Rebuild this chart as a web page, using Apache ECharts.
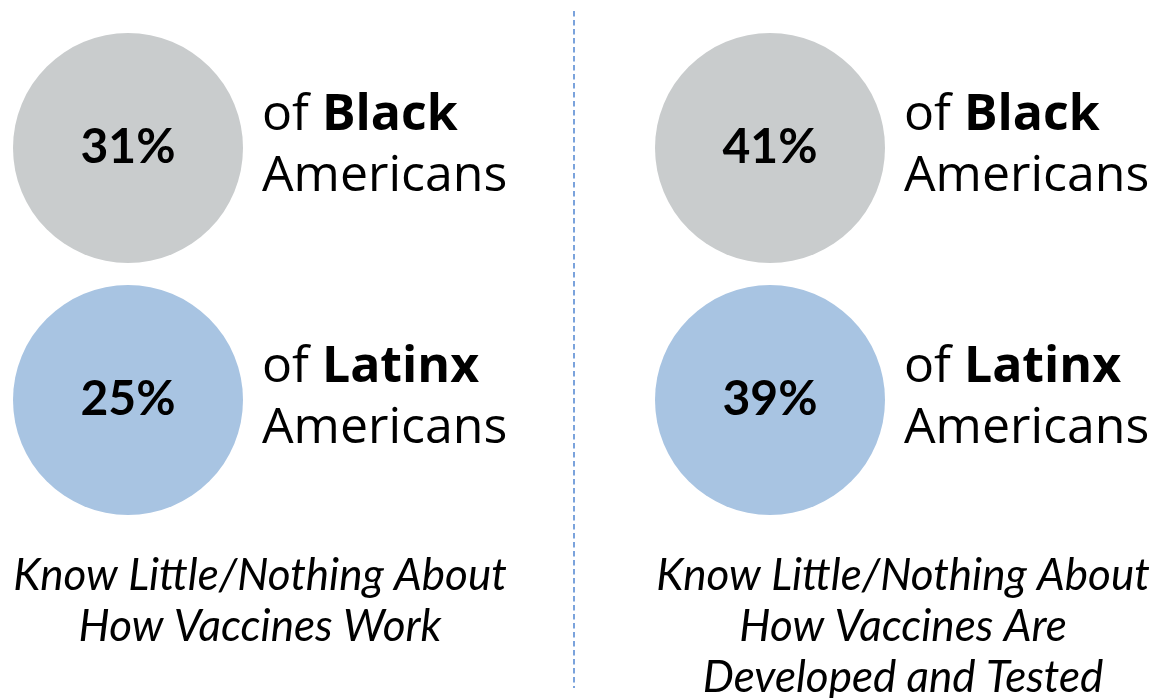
<!DOCTYPE html>
<html><head><meta charset="utf-8">
<script src="https://cdn.jsdelivr.net/npm/echarts@6/dist/echarts.min.js"></script>
<style>html,body{margin:0;padding:0;background:#fff}#c{width:1156px;height:698px}</style>
</head><body><div id="c"></div>
<script>
const panels = ['Work', 'Tested'];
const groups = ['Black', 'Latinx'];
const blackValues = [31, 41];
const latinxValues = [25, 39];
const captions = ['Know Little/Nothing About\nHow Vaccines Work', 'Know Little/Nothing About\nHow Vaccines Are\nDeveloped and Tested'];
const colors = {Black: '#c9cccd', Latinx: '#a8c4e2'};
const FONT = 'Lato';
const LFONT = 'Open Sans';

const chart = echarts.init(document.getElementById('c'));
const circleData = blackValues.map((v, i) => ({value: [panels[i], 'Black', v], itemStyle: {color: colors.Black, opacity: 1}}))
  .concat(latinxValues.map((v, i) => ({value: [panels[i], 'Latinx', v], itemStyle: {color: colors.Latinx, opacity: 1}})));
const textData = circleData.map(d => ({value: d.value}));
chart.setOption({
  animation: false,
  grid: {left: 128, right: 386, top: 148, bottom: 298},
  xAxis: {type: 'category', data: panels, boundaryGap: false, show: false},
  yAxis: {type: 'category', data: groups, boundaryGap: false, inverse: true, show: false},
  series: [
    {
      type: 'scatter', symbolSize: 230, data: circleData,
      label: {show: true, position: 'inside', formatter: p => p.value[2] + '%',
        fontFamily: FONT, fontWeight: 'bold', fontSize: 48, color: '#000'},
      emphasis: {disabled: true}
    },
    {
      type: 'scatter', symbolSize: 230, data: textData,
      itemStyle: {color: 'rgba(0,0,0,0)', opacity: 1},
      label: {show: true, position: 'right', distance: 19, offset: [0, -2], color: '#000',
        formatter: p => 'of {b|' + p.value[1] + '}\nAmericans',
        fontFamily: LFONT, fontSize: 50, lineHeight: 61,
        rich: {b: {fontFamily: LFONT, fontWeight: 'bold', fontSize: 50, lineHeight: 61, color: '#000'}}},
      emphasis: {disabled: true}
    }
  ],
  graphic: [
    {type: 'line', shape: {x1: 574, y1: 11, x2: 574, y2: 688},
      style: {stroke: '#7ba3dc', lineWidth: 2, lineDash: [5.5, 3.5]}},
    {type: 'text', x: 260, y: 550, style: {text: captions[0], textAlign: 'center',
      font: 'italic 44px ' + FONT, lineHeight: 51, fill: '#000'}},
    {type: 'text', x: 903, y: 550, style: {text: captions[1], textAlign: 'center',
      font: 'italic 44px ' + FONT, lineHeight: 51, fill: '#000'}}
  ]
});
</script></body></html>
